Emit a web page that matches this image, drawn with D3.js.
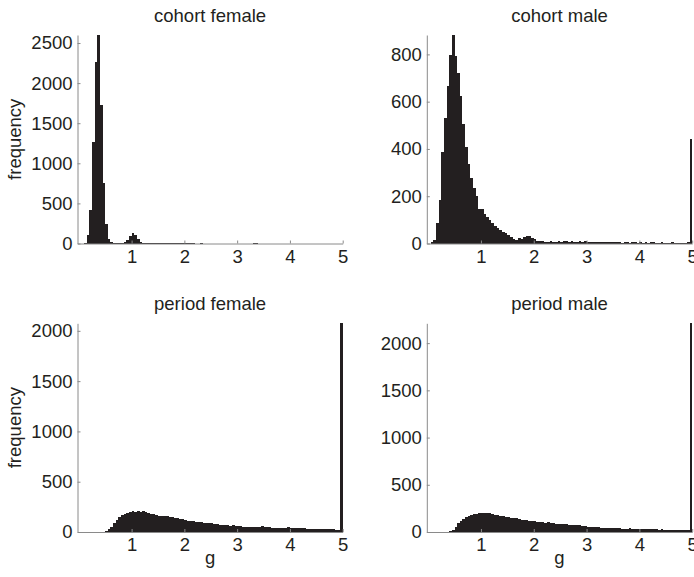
<!DOCTYPE html>
<html>
<head>
<meta charset="utf-8">
<script src="https://cdn.jsdelivr.net/npm/d3@7/dist/d3.min.js"></script>
<style>
  html, body { margin: 0; padding: 0; background: #ffffff; }
  svg { display: block; }
  text { font-family: "Liberation Sans", Arial, Helvetica, sans-serif; fill: #231f20; }
</style>
</head>
<body>
<svg id="chart" width="694" height="577"></svg>
<script>
// ---------- DATA ----------
const binWidth = 0.05;                       // histogram bin width (g units)
const binStarts = d3.range(100).map(i => +(i * binWidth).toFixed(2)); // left edges 0 .. 4.95

const panelTitles = ["cohort female", "cohort male", "period female", "period male"];

const cohortFemale = [
  0, 0, 10, 100, 420, 1265, 2260, 2600, 1725, 750,
  245, 50, 20, 12, 10, 12, 10, 15, 40, 95,
  130, 110, 55, 20, 12, 10, 8, 10, 6, 5,
  3, 3, 2, 2, 2, 1, 1, 1, 1, 2,
  1, 1, 1, 1, 0, 0, 1, 0, 0, 0,
  0, 0, 0, 0, 0, 0, 0, 0, 0, 0,
  0, 0, 0, 0, 0, 0, 10, 10, 0, 0,
  0, 0, 0, 0, 0, 0, 0, 0, 0, 0,
  0, 0, 0, 0, 0, 0, 0, 0, 0, 0,
  0, 0, 0, 0, 0, 0, 0, 0, 0, 0
];

const cohortMale = [
  0, 8, 15, 85, 183, 388, 533, 665, 797, 882,
  795, 720, 625, 505, 410, 335, 275, 235, 200, 148,
  145, 125, 110, 100, 85, 75, 65, 55, 50, 45,
  38, 28, 20, 15, 22, 20, 28, 32, 30, 25,
  18, 12, 10, 10, 8, 8, 10, 8, 8, 10,
  8, 12, 10, 8, 10, 8, 8, 10, 6, 12,
  8, 6, 6, 5, 8, 5, 5, 6, 5, 5,
  6, 5, 5, 4, 5, 5, 4, 5, 5, 4,
  5, 4, 5, 4, 8, 5, 4, 4, 6, 4,
  4, 4, 5, 4, 4, 4, 4, 4, 5, 440
];

const periodFemale = [
  0, 0, 0, 0, 0, 0, 0, 0, 0, 3,
  8, 25, 50, 90, 120, 150, 165, 180, 190, 195,
  205, 200, 205, 200, 205, 195, 190, 180, 175, 165,
  160, 158, 155, 155, 150, 145, 140, 135, 130, 125,
  115, 112, 108, 105, 100, 95, 95, 90, 90, 88,
  85, 83, 80, 70, 68, 65, 70, 62, 68, 60,
  62, 55, 52, 50, 50, 50, 48, 50, 48, 56,
  50, 45, 45, 42, 40, 40, 42, 38, 40, 45,
  38, 38, 36, 38, 35, 36, 33, 30, 32, 30,
  32, 30, 28, 30, 30, 28, 30, 20, 18, 2075
];

const periodMale = [
  0, 0, 0, 0, 0, 0, 0, 5, 15, 20,
  50, 95, 120, 140, 160, 170, 180, 188, 195, 200,
  205, 200, 205, 198, 190, 185, 178, 170, 165, 160,
  155, 150, 150, 145, 135, 132, 130, 128, 120, 118,
  115, 110, 108, 105, 100, 102, 98, 92, 90, 88,
  85, 82, 80, 75, 72, 70, 72, 75, 65, 60,
  58, 55, 52, 50, 48, 45, 45, 42, 42, 40,
  42, 38, 38, 36, 35, 35, 38, 34, 33, 32,
  34, 30, 30, 28, 30, 28, 27, 26, 28, 25,
  26, 25, 24, 25, 25, 24, 25, 22, 20, 2210
];

const xTicks = [1, 2, 3, 4, 5];
const yTicksCohortFemale = [0, 500, 1000, 1500, 2000, 2500];
const yTicksCohortMale = [0, 200, 400, 600, 800];
const yTicksPeriod = [0, 500, 1000, 1500, 2000];

const xLabel = "g";
const yLabel = "frequency";

// ---------- LAYOUT ----------
const svg = d3.select("#chart");
const cols = [{ l: 77.5, r: 342.7 }, { l: 426.8, r: 692.2 }];
const rows = [{ t: 35, b: 243.5 }, { t: 323.3, b: 532 }];

const panels = [
  { title: panelTitles[0], values: cohortFemale, yTicks: yTicksCohortFemale, c: 0, r: 0 },
  { title: panelTitles[1], values: cohortMale,   yTicks: yTicksCohortMale,   c: 1, r: 0 },
  { title: panelTitles[2], values: periodFemale, yTicks: yTicksPeriod,       c: 0, r: 1 },
  { title: panelTitles[3], values: periodMale,   yTicks: yTicksPeriod,       c: 1, r: 1 }
];

const barColor = "#231f20";
const axisColor = "#8a8a8a";
const fontSize = 18.5;

panels.forEach(p => {
  const col = cols[p.c], row = rows[p.r];
  const x = d3.scaleLinear().domain([-0.025, 5]).range([col.l, col.r]);
  const y = d3.scaleLinear().domain([0, d3.max(p.values)]).range([row.b, row.t]);

  const g = svg.append("g");

  // bars
  g.append("g").selectAll("rect")
    .data(p.values.map((v, i) => ({ x0: binStarts[i], v })))
    .join("rect")
    .attr("x", d => x(d.x0))
    .attr("width", d => x(d.x0 + binWidth) - x(d.x0))
    .attr("y", d => y(d.v))
    .attr("height", d => y(0) - y(d.v))
    .attr("fill", barColor)
    .attr("shape-rendering", "crispEdges");

  // x axis
  const xa = g.append("g")
    .attr("transform", `translate(0,${row.b})`)
    .call(d3.axisBottom(x).tickValues(xTicks).tickFormat(d3.format("d"))
      .tickSizeInner(-3).tickSizeOuter(0).tickPadding(6));
  // y axis
  const ya = g.append("g")
    .attr("transform", `translate(${col.l},0)`)
    .call(d3.axisLeft(y).tickValues(p.yTicks).tickFormat(d3.format("d"))
      .tickSizeInner(-3).tickSizeOuter(0).tickPadding(5));

  [xa, ya].forEach(a => {
    a.select(".domain").attr("stroke", axisColor).attr("stroke-width", 1);
    a.selectAll(".tick line").attr("stroke", axisColor);
    a.selectAll(".tick text")
      .attr("font-size", fontSize)
      .attr("font-family", '"Liberation Sans", Arial, Helvetica, sans-serif')
      .attr("fill", "#231f20");
  });

  // title
  g.append("text")
    .attr("x", (col.l + col.r) / 2)
    .attr("y", row.t - 13)
    .attr("text-anchor", "middle")
    .attr("font-size", fontSize)
    .text(p.title);

  // y label (left column only)
  if (p.c === 0) {
    g.append("text")
      .attr("transform", `translate(21,${(row.t + row.b) / 2}) rotate(-90)`)
      .attr("text-anchor", "middle")
      .attr("font-size", fontSize)
      .text(yLabel);
  }
  // x label (bottom row only)
  if (p.r === 1) {
    g.append("text")
      .attr("x", (col.l + col.r) / 2)
      .attr("y", row.b + 32)
      .attr("text-anchor", "middle")
      .attr("font-size", fontSize)
      .text(xLabel);
  }
});
</script>
</body>
</html>
